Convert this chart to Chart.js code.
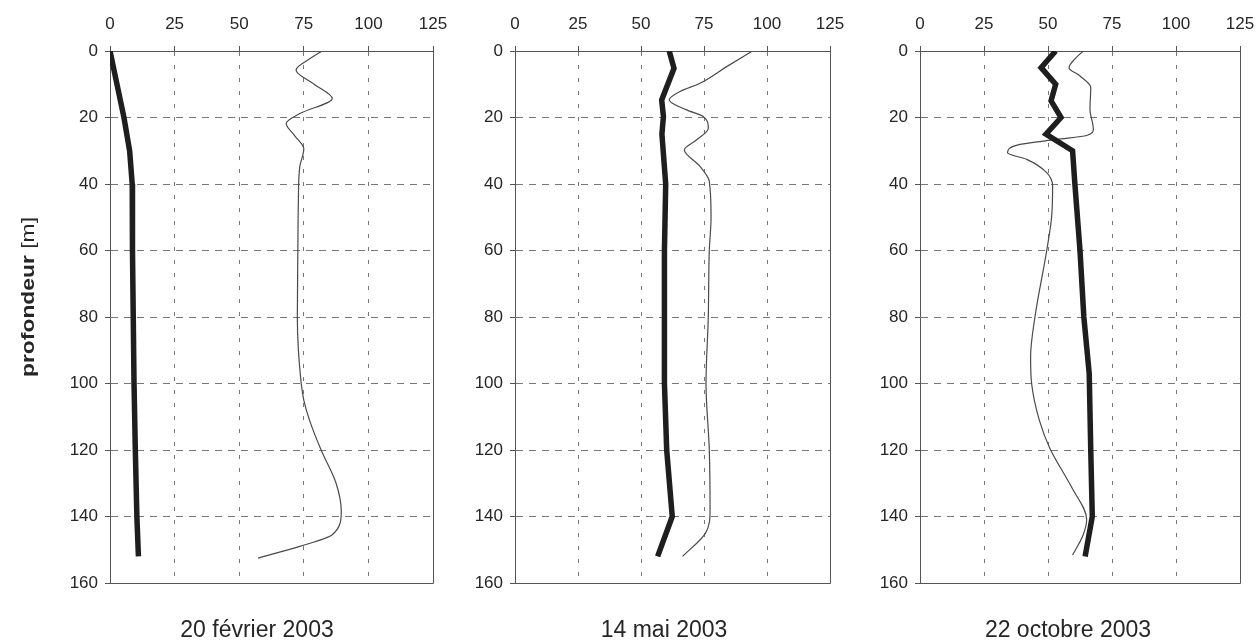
<!DOCTYPE html>
<html>
<head>
<meta charset="utf-8">
<script src="https://cdn.jsdelivr.net/npm/chart.js@4.4.0/dist/chart.umd.min.js"></script>
<style>
  html, body { margin: 0; padding: 0; background: #fff; }
  #wrap { position: relative; width: 1259px; height: 641px; overflow: hidden; }
  #wrap canvas { position: absolute; top: 0; }
</style>
</head>
<body>
<div id="wrap">
  <canvas id="c1" width="450" height="641" style="left:0px"></canvas>
  <canvas id="c2" width="400" height="641" style="left:450px"></canvas>
  <canvas id="c3" width="409" height="641" style="left:850px"></canvas>
</div>
<script>
const X_TICKS = [0, 25, 50, 75, 100, 125];
const DEPTH_TICKS = [0, 20, 40, 60, 80, 100, 120, 140, 160];
const TITLES = ['20 février 2003', '14 mai 2003', '22 octobre 2003'];
const Y_TITLE = ['profondeur', ' [m]'];

// 20 février 2003
const febThickDepth = [0, 10, 20, 30, 40, 60, 80, 100, 120, 140, 152];
const febThickValue = [0, 2.7, 5.4, 7.6, 8.6, 8.7, 9.0, 9.3, 9.8, 10.4, 11.0];
const febThinDepth = [0, 2.5, 5.7, 10, 14.3, 18.8, 21.8, 25.5, 29.4, 35, 45, 60, 80, 100, 105, 111, 120, 130, 138.4, 145.5, 149, 152.5];
const febThinValue = [82, 77, 72, 79, 86, 73.5, 68.2, 71.5, 75, 73.4, 72.9, 72.7, 72.5, 74, 75, 77.2, 81.7, 87.5, 89.5, 86, 73.4, 57.3];

// 14 mai 2003
const mayThickDepth = [0, 5.2, 14.7, 19.7, 25, 40, 60, 80, 100, 120, 140, 152];
const mayThickValue = [61.2, 63.1, 58.2, 58.9, 58.3, 59.8, 59.3, 59.3, 59.3, 60.2, 62.4, 56.6];
const mayThinDepth = [0, 4.7, 9.7, 12.2, 14.7, 17.7, 19.7, 23.2, 26.7, 29.7, 34.7, 39.2, 50, 60, 80, 100, 120, 138, 145, 152];
const mayThinValue = [94.2, 84, 73.4, 65.5, 61.2, 68.1, 74.7, 76.7, 72.1, 67.2, 73.4, 77.1, 77.8, 77.1, 76.7, 75.8, 77.1, 77.4, 75.6, 66.5];

// 22 octobre 2003
const octThickDepth = [0, 5, 10, 15, 20, 25, 30, 40, 60, 80, 97, 120, 140, 152];
const octThickValue = [53, 47.3, 53, 51.2, 55.1, 49.2, 59.6, 60.5, 62.5, 64, 66.1, 66.7, 67.3, 64.5];
const octThinDepth = [0, 2.4, 5, 7.5, 11, 17.5, 23.5, 25.4, 26.6, 28.1, 30.6, 32.6, 36.6, 40.7, 50, 60, 80, 92, 100, 111, 119.6, 131.3, 140.9, 145.4, 151.6];
const octThinValue = [63.8, 60.5, 58.2, 62.5, 66.7, 66.4, 67.7, 65.1, 53.4, 39.1, 34.2, 41.7, 49.5, 51.8, 51.4, 49.5, 44.9, 43.2, 43.6, 46.6, 50.8, 59.3, 65.1, 63.8, 59.6];

const FONT = '"Liberation Sans", Arial, sans-serif';
const TEXT = '#262626';
const AXIS = '#555';
const GRID = '#777';

function zip(depths, values) {
  return depths.map((d, i) => ({ x: values[i], y: d }));
}

// bottom + right frame lines, date caption and y title
const framePlugin = {
  id: 'frame',
  beforeDatasetsDraw(chart) {
    const { ctx, chartArea: a } = chart;
    ctx.save();
    ctx.strokeStyle = AXIS;
    ctx.lineWidth = 1;
    ctx.beginPath();
    const yb = Math.round(a.bottom) + 0.5;
    const xr = Math.round(a.right) + 0.5;
    ctx.moveTo(a.left, yb);
    ctx.lineTo(xr, yb);
    ctx.moveTo(xr, a.top);
    ctx.lineTo(xr, yb);
    ctx.stroke();
    ctx.restore();
  },
  afterDraw(chart, args, opts) {
    const { ctx } = chart;
    ctx.save();
    ctx.fillStyle = TEXT;
    ctx.font = '23px ' + FONT;
    ctx.textAlign = 'center';
    ctx.textBaseline = 'alphabetic';
    ctx.fillText(opts.title, opts.titleX, 637);

    if (opts.yTitle) {
      const bold = 'bold 19px ' + FONT;
      const reg = '19px ' + FONT;
      ctx.font = bold;
      const w1 = ctx.measureText(Y_TITLE[0]).width;
      ctx.font = reg;
      const w2 = ctx.measureText(Y_TITLE[1]).width;
      const total = w1 + w2;
      ctx.translate(34, 297);
      ctx.rotate(-Math.PI / 2);
      ctx.scale(160 / total, 1);
      ctx.textAlign = 'left';
      ctx.font = bold;
      ctx.fillText(Y_TITLE[0], -total / 2, 0);
      ctx.font = reg;
      ctx.fillText(Y_TITLE[1], -total / 2 + w1, 0);
    }
    ctx.restore();
  }
};

function makePanel(id, thick, thin, panel) {
  const ctx = document.getElementById(id).getContext('2d');
  return new Chart(ctx, {
    type: 'line',
    data: {
      datasets: [
        {
          data: thick,
          borderColor: '#1e1e1e',
          borderWidth: 5.5,
          pointRadius: 0,
          tension: 0,
          borderJoinStyle: 'miter',
        },
        {
          data: thin,
          borderColor: '#4a4a4a',
          borderWidth: 1.2,
          pointRadius: 0,
          cubicInterpolationMode: 'monotone',
        },
      ],
    },
    options: {
      indexAxis: 'y',
      responsive: false,
      animation: false,
      layout: { padding: { top: 0, left: 0, right: panel.padRight, bottom: 58 } },
      plugins: {
        legend: { display: false },
        tooltip: { enabled: false },
        frame: panel,
      },
      scales: {
        x: {
          type: 'linear',
          position: 'top',
          min: 0, max: 125,
          afterBuildTicks: s => { s.ticks = X_TICKS.map(v => ({ value: v })); },
          afterFit: s => { s.height = 51; s.paddingLeft = 0; s.paddingRight = 0; },
          ticks: { color: TEXT, font: { family: FONT, size: 17 }, padding: 11, maxRotation: 0, autoSkip: false },
          grid: {
            color: c => (c.tick && c.tick.value === 125) ? 'rgba(0,0,0,0)' : GRID,
            tickColor: AXIS,
            tickLength: 5,
            lineWidth: 1,
          },
          border: { display: true, color: AXIS, width: 1, dash: [4, 9] },
        },
        y: {
          type: 'linear',
          reverse: true,
          min: 0, max: 160,
          afterBuildTicks: s => { s.ticks = DEPTH_TICKS.map(v => ({ value: v })); },
          afterFit: s => { s.width = panel.yWidth; s.paddingTop = 0; s.paddingBottom = 0; },
          ticks: { color: TEXT, font: { family: FONT, size: 17 }, padding: 7, autoSkip: false },
          grid: { color: GRID, tickColor: AXIS, tickLength: 5, lineWidth: 1 },
          border: { display: true, color: AXIS, width: 1, dash: [7, 6] },
        },
      },
    },
    plugins: [framePlugin],
  });
}

makePanel('c1', zip(febThickDepth, febThickValue), zip(febThinDepth, febThinValue),
  { yWidth: 110, padRight: 17, title: TITLES[0], titleX: 257, yTitle: true });
makePanel('c2', zip(mayThickDepth, mayThickValue), zip(mayThinDepth, mayThinValue),
  { yWidth: 65, padRight: 20, title: TITLES[1], titleX: 214, yTitle: false });
makePanel('c3', zip(octThickDepth, octThickValue), zip(octThinDepth, octThinValue),
  { yWidth: 70, padRight: 19, title: TITLES[2], titleX: 218, yTitle: false });
</script>
</body>
</html>
